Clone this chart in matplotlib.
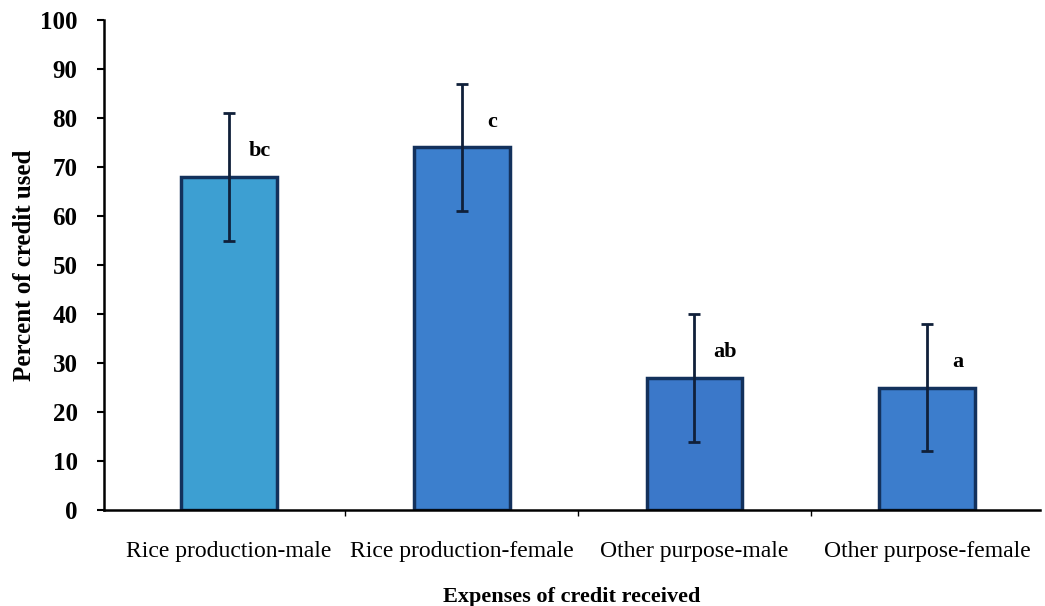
import numpy as np
import matplotlib.pyplot as plt

# data
categories = ['Rice production-male', 'Rice production-female',
              'Other purpose-male', 'Other purpose-female']
percent_used = [68, 74, 27, 25]
err = [13, 13, 13, 13]
letters = ['bc', 'c', 'ab', 'a']
bar_colors = ['#3d9fd2', '#3c7fcd', '#3b78c9', '#3c7dcc']

plt.rcParams['font.family'] = ['Liberation Serif', 'DejaVu Serif']

fig = plt.figure(figsize=(10.45, 6.06), dpi=100)
ax = fig.add_axes([0.0995, 0.158, 0.8955, 0.809])

x = np.arange(len(categories))
ax.bar(x, percent_used, 0.41, color=bar_colors, edgecolor='#13315c', linewidth=2.5, zorder=2)
ax.errorbar(x, percent_used, yerr=err, fmt='none', ecolor='#10203a', elinewidth=2,
            capsize=4, capthick=2, zorder=3)

for xi, v, e, lab in zip(x, percent_used, err, letters):
    ax.text(xi + 0.13, v + e * 0.25, lab, ha='center', va='bottom', fontsize=16, fontweight='bold')

ax.set_xlim(-0.538, 3.484)
ax.set_ylim(0, 100)
ax.set_yticks(np.arange(0, 101, 10))
ax.set_yticklabels([str(t) for t in range(0, 101, 10)], fontsize=18, fontweight='bold')

# category labels centred, ticks at the boundaries
ax.set_xticks(x)
ax.set_xticklabels(categories, fontsize=17)
ax.tick_params(axis='x', length=0, pad=22)
ax.set_xticks(x[:-1] + 0.5, minor=True)
ax.tick_params(axis='x', which='minor', length=4, width=1, direction='out')
ax.tick_params(axis='y', length=5, width=1.5, direction='out', pad=14)

ax.spines['right'].set_visible(False)
ax.spines['top'].set_visible(False)
ax.spines['left'].set_linewidth(1.8)
ax.spines['bottom'].set_linewidth(1.8)

ax.set_ylabel('Percent of credit used', fontsize=18, fontweight='bold', labelpad=3)
ax.set_xlabel('Expenses of credit received', fontsize=16, fontweight='bold', labelpad=18)

fig.savefig('out.png', dpi=100)
